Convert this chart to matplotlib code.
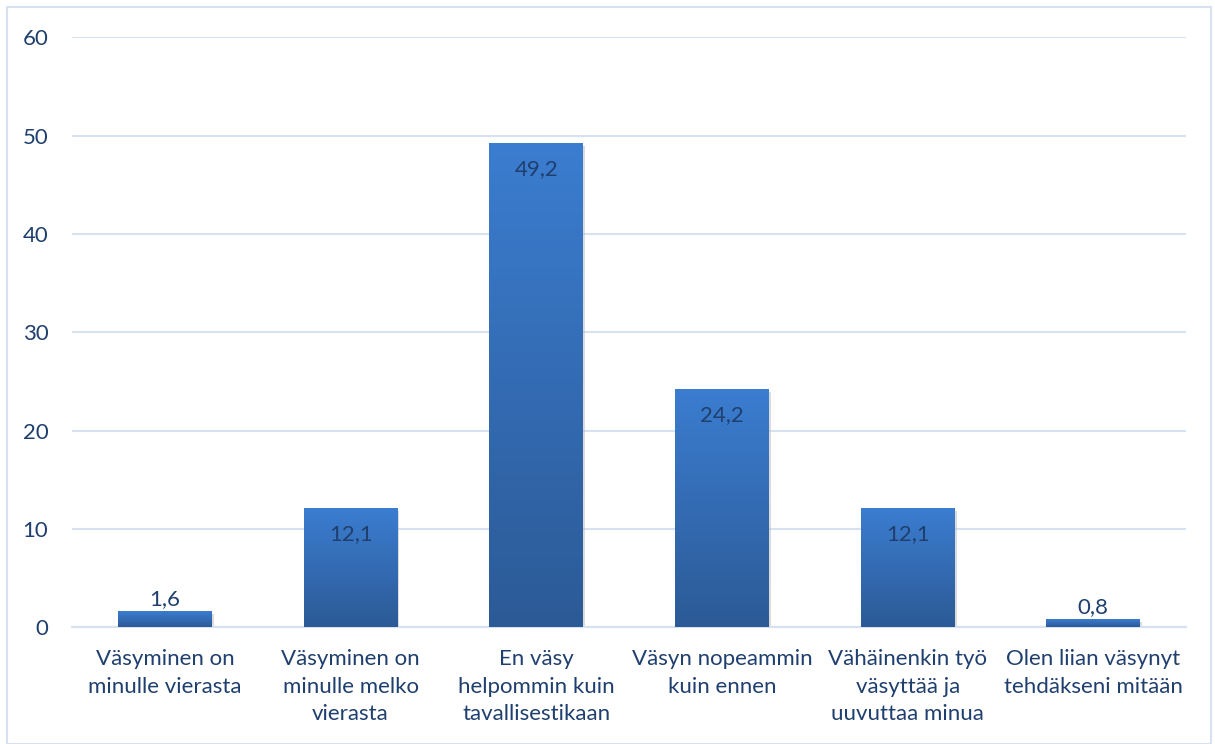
import numpy as np
import matplotlib.pyplot as plt
from matplotlib.patches import Rectangle
from matplotlib.colors import LinearSegmentedColormap

categories = [
    "Väsyminen on\nminulle vierasta",
    "Väsyminen on\nminulle melko\nvierasta",
    "En väsy\nhelpommin kuin\ntavallisestikaan",
    "Väsyn nopeammin\nkuin ennen",
    "Vähäinenkin työ\nväsyttää ja\nuuvuttaa minua",
    "Olen liian väsynyt\ntehdäkseni mitään",
]
values = [1.6, 12.1, 49.2, 24.2, 12.1, 0.8]
labels = ["1,6", "12,1", "49,2", "24,2", "12,1", "0,8"]
yticks = [0, 10, 20, 30, 40, 50, 60]

text_color = "#1f3f6e"
grid_color = "#d6e2f2"

plt.rcParams['font.family'] = ['Lato', 'DejaVu Sans']

fig = plt.figure(figsize=(12.15, 7.44), dpi=100)
ax = fig.add_axes([0.0593, 0.157, 0.917, 0.793])

x = np.arange(len(values))
bar_width = 0.506
bars = ax.bar(x, values, width=bar_width, color="none", zorder=3)

# vertical gradient fill for each bar
grad = np.linspace(0, 1, 256).reshape(-1, 1)
cmap = LinearSegmentedColormap.from_list("bars", ["#2c5a96", "#3b7dd0"])
for b in bars:
    x0, y0 = b.get_x(), b.get_y()
    w, h = b.get_width(), b.get_height()
    # faint shadow under the bar
    ax.add_patch(Rectangle((x0 + 0.01, y0 - 0.25), w, h, color="#b8b8b8",
                           alpha=0.5, zorder=2, linewidth=0))
    im = ax.imshow(grad, extent=[x0, x0 + w, y0, y0 + h], origin="lower",
                   cmap=cmap, aspect="auto", zorder=3)
    im.set_clip_path(b)

for xi, v, lab in zip(x, values, labels):
    if v > 5:
        ax.text(xi, v - 1.6, lab, ha="center", va="top", fontsize=16,
                color=text_color, zorder=4)
    else:
        ax.text(xi, v + 0.2, lab, ha="center", va="bottom", fontsize=16,
                color=text_color, zorder=4)

ax.set_xlim(-0.5, len(values) - 0.5)
ax.set_ylim(0, 60)
ax.set_yticks(yticks)
ax.set_yticklabels([str(t) for t in yticks])
ax.set_xticks(x)
ax.set_xticklabels(categories, linespacing=1.45)
ax.tick_params(axis="both", length=0, labelsize=16, colors=text_color)
ax.tick_params(axis="x", pad=16)
ax.tick_params(axis="y", pad=17)

ax.grid(axis="y", color=grid_color, linewidth=1.5, zorder=0)
ax.set_axisbelow(True)
for side in ["top", "right", "left"]:
    ax.spines[side].set_visible(False)
ax.spines["bottom"].set_color(grid_color)
ax.spines["bottom"].set_linewidth(1.5)

fig.patches.append(Rectangle((0.006, 0.0), 0.991, 0.99, transform=fig.transFigure,
                             fill=False, edgecolor="#d6e2f2", linewidth=1.5))

fig.savefig("out.png", dpi=100)
